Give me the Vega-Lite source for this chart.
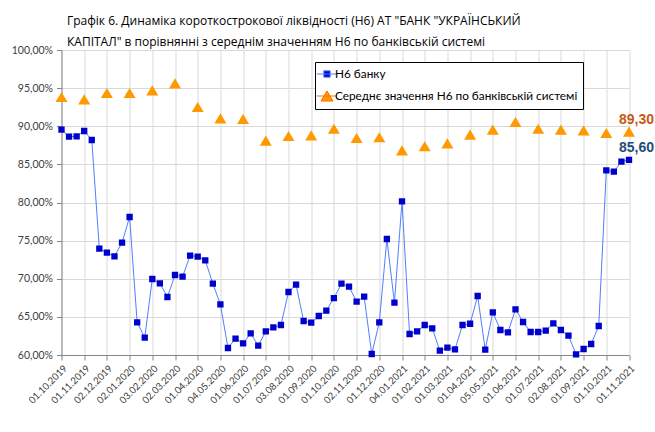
{
  "$schema": "https://vega.github.io/schema/vega-lite/v6.json",
  "width": 567.5,
  "height": 305,
  "autosize": {"type": "none"},
  "padding": {"left": 61.5, "top": 50, "right": 26, "bottom": 77},
  "background": "white",
  "title": {
    "text": ["Графік 6. Динаміка короткострокової ліквідності (Н6) АТ \"БАНК \"УКРАЇНСЬКИЙ", "КАПІТАЛ\" в порівнянні з середнім значенням Н6 по банківській системі"],
    "anchor": "start", "frame": "group", "dx": 5.5, "offset": -4, "font": "Open Sans", "fontSize": 12, "fontWeight": "normal", "color": "#000000", "lineHeight": 21
  },
  "config": {
    "view": {"stroke": null},
    "title": {"fontWeight": "normal"},
    "axis": {"labelFont": "Lato", "labelFontSize": 11, "labelColor": "#404040", "domainColor": "#868686", "tickColor": "#868686", "tickSize": 5, "gridColor": "#D9D9D9", "title": null}
  },
  "data": {"values": [
    {"d": "01.10.2019", "s": "Н6 банку", "v": 89.55},
    {"d": "11.10.2019", "s": "Н6 банку", "v": 88.63},
    {"d": "21.10.2019", "s": "Н6 банку", "v": 88.68},
    {"d": "01.11.2019", "s": "Н6 банку", "v": 89.38},
    {"d": "11.11.2019", "s": "Н6 банку", "v": 88.20},
    {"d": "21.11.2019", "s": "Н6 банку", "v": 73.95},
    {"d": "02.12.2019", "s": "Н6 банку", "v": 73.42},
    {"d": "11.12.2019", "s": "Н6 банку", "v": 72.94},
    {"d": "21.12.2019", "s": "Н6 банку", "v": 74.73},
    {"d": "02.01.2020", "s": "Н6 банку", "v": 78.10},
    {"d": "11.01.2020", "s": "Н6 банку", "v": 64.28},
    {"d": "21.01.2020", "s": "Н6 банку", "v": 62.27},
    {"d": "03.02.2020", "s": "Н6 банку", "v": 69.97},
    {"d": "11.02.2020", "s": "Н6 банку", "v": 69.40},
    {"d": "21.02.2020", "s": "Н6 банку", "v": 67.61},
    {"d": "02.03.2020", "s": "Н6 банку", "v": 70.49},
    {"d": "11.03.2020", "s": "Н6 банку", "v": 70.27},
    {"d": "21.03.2020", "s": "Н6 банку", "v": 73.03},
    {"d": "01.04.2020", "s": "Н6 банку", "v": 72.90},
    {"d": "11.04.2020", "s": "Н6 банку", "v": 72.42},
    {"d": "21.04.2020", "s": "Н6 банку", "v": 69.36},
    {"d": "04.05.2020", "s": "Н6 банку", "v": 66.64},
    {"d": "11.05.2020", "s": "Н6 банку", "v": 60.92},
    {"d": "21.05.2020", "s": "Н6 банку", "v": 62.14},
    {"d": "01.06.2020", "s": "Н6 банку", "v": 61.53},
    {"d": "11.06.2020", "s": "Н6 банку", "v": 62.84},
    {"d": "21.06.2020", "s": "Н6 банку", "v": 61.22},
    {"d": "01.07.2020", "s": "Н6 банку", "v": 63.10},
    {"d": "11.07.2020", "s": "Н6 банку", "v": 63.63},
    {"d": "21.07.2020", "s": "Н6 банку", "v": 63.93},
    {"d": "03.08.2020", "s": "Н6 банку", "v": 68.26},
    {"d": "11.08.2020", "s": "Н6 банку", "v": 69.22},
    {"d": "21.08.2020", "s": "Н6 банку", "v": 64.46},
    {"d": "01.09.2020", "s": "Н6 банку", "v": 64.24},
    {"d": "11.09.2020", "s": "Н6 банку", "v": 65.11},
    {"d": "21.09.2020", "s": "Н6 банку", "v": 65.81},
    {"d": "01.10.2020", "s": "Н6 банку", "v": 67.47},
    {"d": "11.10.2020", "s": "Н6 банку", "v": 69.36},
    {"d": "21.10.2020", "s": "Н6 банку", "v": 68.96},
    {"d": "02.11.2020", "s": "Н6 банку", "v": 67.00},
    {"d": "11.11.2020", "s": "Н6 банку", "v": 67.65},
    {"d": "21.11.2020", "s": "Н6 банку", "v": 60.13},
    {"d": "01.12.2020", "s": "Н6 банку", "v": 64.28},
    {"d": "11.12.2020", "s": "Н6 банку", "v": 75.21},
    {"d": "21.12.2020", "s": "Н6 банку", "v": 66.86},
    {"d": "04.01.2021", "s": "Н6 банку", "v": 80.15},
    {"d": "11.01.2021", "s": "Н6 банку", "v": 62.75},
    {"d": "21.01.2021", "s": "Н6 банку", "v": 63.10},
    {"d": "01.02.2021", "s": "Н6 банку", "v": 63.93},
    {"d": "11.02.2021", "s": "Н6 банку", "v": 63.50},
    {"d": "21.02.2021", "s": "Н6 банку", "v": 60.57},
    {"d": "01.03.2021", "s": "Н6 банку", "v": 60.96},
    {"d": "11.03.2021", "s": "Н6 банку", "v": 60.74},
    {"d": "21.03.2021", "s": "Н6 банку", "v": 63.93},
    {"d": "01.04.2021", "s": "Н6 банку", "v": 64.10},
    {"d": "11.04.2021", "s": "Н6 банку", "v": 67.74},
    {"d": "21.04.2021", "s": "Н6 банку", "v": 60.70},
    {"d": "05.05.2021", "s": "Н6 банку", "v": 65.60},
    {"d": "11.05.2021", "s": "Н6 банку", "v": 63.28},
    {"d": "21.05.2021", "s": "Н6 банку", "v": 62.97},
    {"d": "01.06.2021", "s": "Н6 банку", "v": 65.99},
    {"d": "11.06.2021", "s": "Н6 банку", "v": 64.33},
    {"d": "21.06.2021", "s": "Н6 банку", "v": 63.02},
    {"d": "01.07.2021", "s": "Н6 банку", "v": 63.02},
    {"d": "11.07.2021", "s": "Н6 банку", "v": 63.19},
    {"d": "21.07.2021", "s": "Н6 банку", "v": 64.15},
    {"d": "02.08.2021", "s": "Н6 банку", "v": 63.28},
    {"d": "11.08.2021", "s": "Н6 банку", "v": 62.54},
    {"d": "21.08.2021", "s": "Н6 банку", "v": 60.09},
    {"d": "01.09.2021", "s": "Н6 банку", "v": 60.79},
    {"d": "11.09.2021", "s": "Н6 банку", "v": 61.44},
    {"d": "21.09.2021", "s": "Н6 банку", "v": 63.80},
    {"d": "01.10.2021", "s": "Н6 банку", "v": 84.22},
    {"d": "11.10.2021", "s": "Н6 банку", "v": 84.04},
    {"d": "21.10.2021", "s": "Н6 банку", "v": 85.36},
    {"d": "01.11.2021", "s": "Н6 банку", "v": 85.60},
    {"d": "01.10.2019", "s": "Середнє значення Н6 по банківській системі", "v": 93.84},
    {"d": "01.11.2019", "s": "Середнє значення Н6 по банківській системі", "v": 93.53},
    {"d": "02.12.2019", "s": "Середнє значення Н6 по банківській системі", "v": 94.36},
    {"d": "02.01.2020", "s": "Середнє значення Н6 по банківській системі", "v": 94.36},
    {"d": "03.02.2020", "s": "Середнє значення Н6 по банківській системі", "v": 94.71},
    {"d": "02.03.2020", "s": "Середнє значення Н6 по банківській системі", "v": 95.63},
    {"d": "01.04.2020", "s": "Середнє значення Н6 по банківській системі", "v": 92.52},
    {"d": "04.05.2020", "s": "Середнє значення Н6 по банківській системі", "v": 91.04},
    {"d": "01.06.2020", "s": "Середнє значення Н6 по банківській системі", "v": 90.95},
    {"d": "01.07.2020", "s": "Середнє значення Н6 по банківській системі", "v": 88.11},
    {"d": "03.08.2020", "s": "Середнє значення Н6 по банківській системі", "v": 88.72},
    {"d": "01.09.2020", "s": "Середнє значення Н6 по банківській системі", "v": 88.81},
    {"d": "01.10.2020", "s": "Середнє значення Н6 по банківській системі", "v": 89.68},
    {"d": "02.11.2020", "s": "Середнє значення Н6 по банківській системі", "v": 88.46},
    {"d": "01.12.2020", "s": "Середнє значення Н6 по банківській системі", "v": 88.55},
    {"d": "04.01.2021", "s": "Середнє значення Н6 по банківській системі", "v": 86.84},
    {"d": "01.02.2021", "s": "Середнє значення Н6 по банківській системі", "v": 87.37},
    {"d": "01.03.2021", "s": "Середнє значення Н6 по банківській системі", "v": 87.76},
    {"d": "01.04.2021", "s": "Середнє значення Н6 по банківській системі", "v": 88.90},
    {"d": "05.05.2021", "s": "Середнє значення Н6 по банківській системі", "v": 89.55},
    {"d": "01.06.2021", "s": "Середнє значення Н6 по банківській системі", "v": 90.56},
    {"d": "01.07.2021", "s": "Середнє значення Н6 по банківській системі", "v": 89.68},
    {"d": "02.08.2021", "s": "Середнє значення Н6 по банківській системі", "v": 89.55},
    {"d": "01.09.2021", "s": "Середнє значення Н6 по банківській системі", "v": 89.46},
    {"d": "01.10.2021", "s": "Середнє значення Н6 по банківській системі", "v": 89.11},
    {"d": "01.11.2021", "s": "Середнє значення Н6 по банківській системі", "v": 89.30}
  ]},
  "encoding": {
    "x": {
      "field": "d", "type": "ordinal",
      "scale": {"type": "point", "padding": 0, "domain": ["01.10.2019","11.10.2019","21.10.2019","01.11.2019","11.11.2019","21.11.2019","02.12.2019","11.12.2019","21.12.2019","02.01.2020","11.01.2020","21.01.2020","03.02.2020","11.02.2020","21.02.2020","02.03.2020","11.03.2020","21.03.2020","01.04.2020","11.04.2020","21.04.2020","04.05.2020","11.05.2020","21.05.2020","01.06.2020","11.06.2020","21.06.2020","01.07.2020","11.07.2020","21.07.2020","03.08.2020","11.08.2020","21.08.2020","01.09.2020","11.09.2020","21.09.2020","01.10.2020","11.10.2020","21.10.2020","02.11.2020","11.11.2020","21.11.2020","01.12.2020","11.12.2020","21.12.2020","04.01.2021","11.01.2021","21.01.2021","01.02.2021","11.02.2021","21.02.2021","01.03.2021","11.03.2021","21.03.2021","01.04.2021","11.04.2021","21.04.2021","05.05.2021","11.05.2021","21.05.2021","01.06.2021","11.06.2021","21.06.2021","01.07.2021","11.07.2021","21.07.2021","02.08.2021","11.08.2021","21.08.2021","01.09.2021","11.09.2021","21.09.2021","01.10.2021","11.10.2021","21.10.2021","01.11.2021"]},
      "axis": {
        "values": ["01.10.2019","01.11.2019","02.12.2019","02.01.2020","03.02.2020","02.03.2020","01.04.2020","04.05.2020","01.06.2020","01.07.2020","03.08.2020","01.09.2020","01.10.2020","02.11.2020","01.12.2020","04.01.2021","01.02.2021","01.03.2021","01.04.2021","05.05.2021","01.06.2021","01.07.2021","02.08.2021","01.09.2021","01.10.2021","01.11.2021"],
        "labelAngle": -45, "grid": true, "labelPadding": 3, "labelFontSize": 9.7
      }
    },
    "y": {
      "field": "v", "type": "quantitative",
      "scale": {"domain": [60, 100], "nice": false, "zero": false},
      "axis": {"values": [60, 65, 70, 75, 80, 85, 90, 95, 100], "labelExpr": "replace(format(datum.value, '.2f'), '.', ',') + '%'", "grid": true, "labelPadding": 4, "labelFontSize": 10.5}
    }
  },
  "layer": [
    {
      "transform": [{"filter": "datum.s === 'Н6 банку'"}],
      "mark": {"type": "line", "color": "#4F7FFF", "strokeWidth": 1}
    },
    {
      "mark": {"type": "point", "size": 160, "filled": true, "opacity": 1, "strokeWidth": 0},
      "encoding": {
        "color": {
          "field": "s", "type": "nominal",
          "scale": {"domain": ["Н6 банку", "Середнє значення Н6 по банківській системі"], "range": ["#0000CC", "#FF9900"]},
          "legend": {
            "title": null, "orient": "none", "legendX": 253.5, "legendY": 12,
            "fillColor": "white", "strokeColor": "#000000", "padding": 5,
            "labelFont": "Lato", "labelFontSize": 11.8, "labelColor": "#000000", "labelLimit": 400,
            "symbolSize": 160, "rowPadding": 7, "labelOffset": 1, "symbolStrokeWidth": 1
          }
        },
        "stroke": {
          "field": "s", "type": "nominal",
          "scale": {"domain": ["Н6 банку", "Середнє значення Н6 по банківській системі"], "range": ["#4F7FFF", "#FF6A00"]}
        },
        "shape": {
          "field": "s", "type": "nominal",
          "scale": {"domain": ["Н6 банку", "Середнє значення Н6 по банківській системі"], "range": ["M-1.6,0H1.6M-0.5,-0.5H0.5V0.5H-0.5Z", "M-1.6,0H1.6M0,-0.8L0.95,0.8H-0.95Z"]}
        }
      }
    },
    {
      "transform": [
        {"filter": "datum.d === '01.11.2021'"},
        {"calculate": "replace(format(datum.v, '.2f'), '.', ',')", "as": "lbl"}
      ],
      "mark": {"type": "text", "align": "left", "baseline": "middle", "dx": -10, "dy": -12, "font": "Liberation Sans", "fontSize": 14, "fontWeight": "bold"},
      "encoding": {
        "text": {"field": "lbl"},
        "color": {"condition": {"test": "datum.s === 'Н6 банку'", "value": "#1F4E79"}, "value": "#C55A11"}
      }
    }
  ]
}
